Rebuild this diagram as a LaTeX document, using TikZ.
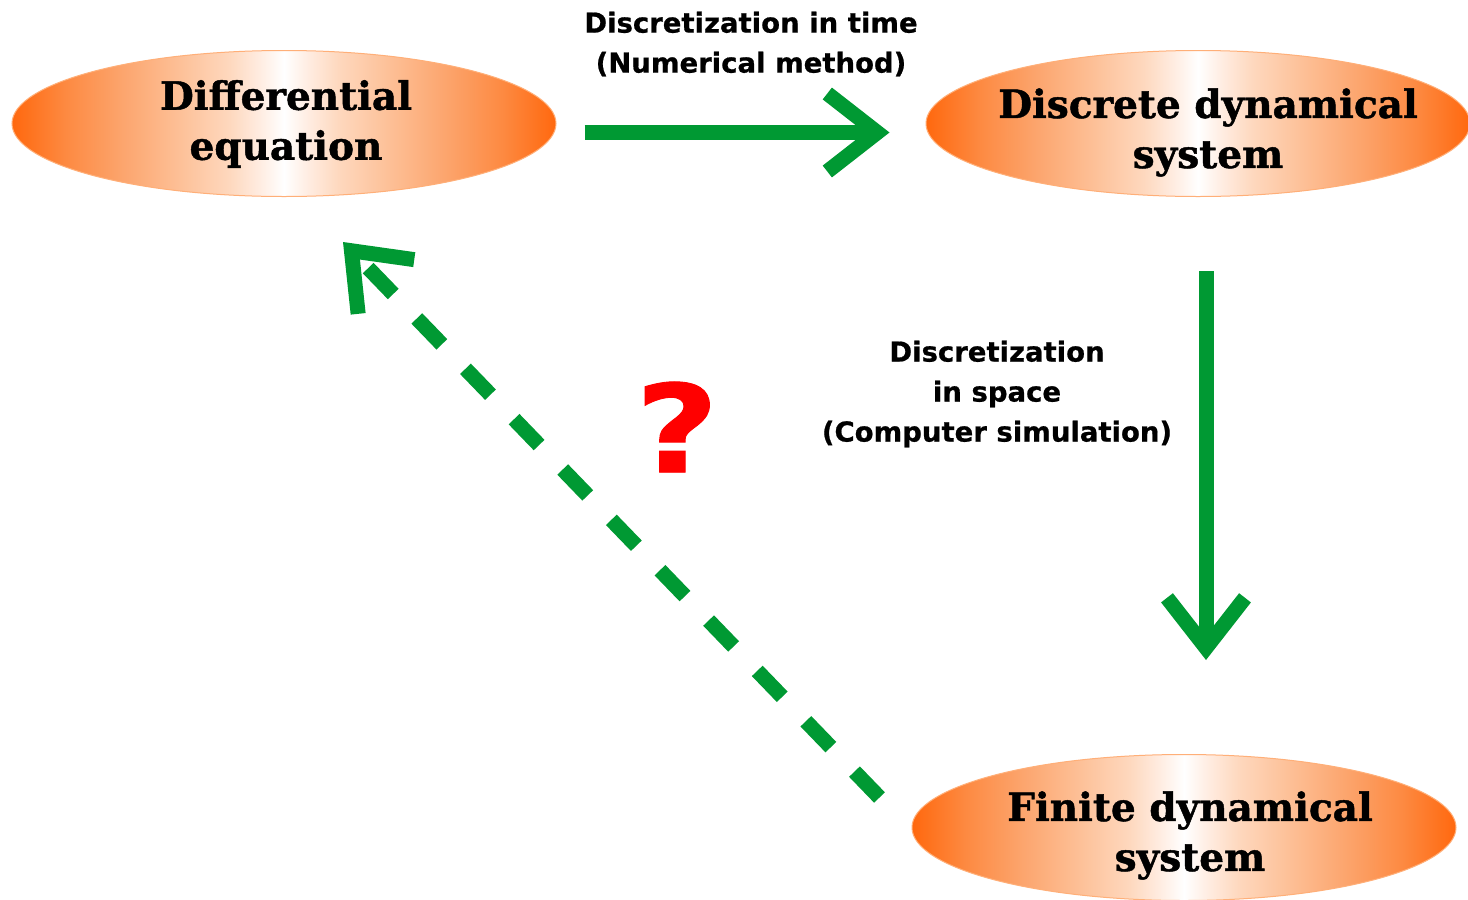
\documentclass[tikz,border=0pt]{standalone}
\usepackage{fontspec}
\setmainfont{DejaVu Serif}
\newfontfamily\statefont[BoldFeatures={FakeBold=1.2}]{DejaVu Serif}
\newfontfamily\labelfont[BoldFeatures={FakeBold=0.7}]{DejaVu Sans}
\usetikzlibrary{shapes.geometric,arrows.meta,calc}
\definecolor{arrowgreen}{RGB}{0,153,51}
\definecolor{deeporange}{RGB}{255,104,14}
\definecolor{orangeA}{RGB}{253,138,66}
\definecolor{orangeB}{RGB}{252,164,108}
\definecolor{orangeC}{RGB}{253,190,148}
\definecolor{orangeD}{RGB}{254,216,190}
\definecolor{orangeE}{RGB}{255,238,228}
\definecolor{rimorange}{RGB}{255,175,120}
\definecolor{qred}{RGB}{255,0,0}

% orange at both rims, fading to white in the middle
\pgfdeclarehorizontalshading{glow}{100bp}{
  color(0bp)=(deeporange); color(25bp)=(deeporange);
  color(30bp)=(orangeA); color(35bp)=(orangeB); color(40bp)=(orangeC);
  color(45bp)=(orangeD); color(48bp)=(orangeE); color(50bp)=(white);
  color(52bp)=(orangeE); color(55bp)=(orangeD); color(60bp)=(orangeC);
  color(65bp)=(orangeB); color(70bp)=(orangeA); color(75bp)=(deeporange);
  color(100bp)=(deeporange)}

\begin{document}
\begin{tikzpicture}[x=1pt,y=-1pt,
  state/.style={ellipse, minimum width=544pt, minimum height=146pt, inner sep=0pt,
    shading=glow, draw=rimorange, line width=1pt},
  statetext/.style={inner sep=0pt, align=center,
    font=\statefont\fontsize{39}{50}\selectfont\bfseries},
  note/.style={inner sep=0pt, align=center,
    font=\labelfont\fontsize{27.5}{40}\selectfont\bfseries},
  flow/.style={draw=arrowgreen, line width=15pt,
    -{Straight Barb[length=50pt,width=78pt]}},
  guess/.style={flow, dash pattern=on 36pt off 34pt},
]
\fill[white] (0,0) rectangle (1468,900);
\useasboundingbox (0,0) rectangle (1468,900);

% the three models
\node[state] (de)  at (284,123.5)  {};
\node[state] (dds) at (1198,123.5) {};
\node[state] (fds) at (1184,827.5) {};
\node[statetext] (de-t)  at ($(de)+(2,0.5)$) {Differential\\equation};
\node[statetext] (dds-t) at ($(dds)+(10,9)$) {Discrete dynamical\\system};
\node[statetext] (fds-t) at ($(fds)+(6,8)$)  {Finite dynamical\\system};

% end points of the connectors
\coordinate (h0) at ($(de.east)+(28,9)$);
\coordinate (h1) at ($(dds.west)+(-36,9)$);
\coordinate (v0) at ($(dds.south)+(8,74)$);
\coordinate (v1) at ($(fds.north)+(22,-94)$);
\coordinate (d0) at ($(fds.west)+(-32,-30)$);
\coordinate (d1) at ($(de.south)+(59,45)$);

\draw[flow]  (h0) -- (h1);
\draw[flow]  (v0) -- (v1);
\draw[guess] (d0) -- (d1);

% labels
\node[note] (lt) at (751,44) {Discretization in time\\(Numerical method)};
\node[note] (ls) at (997,394) {Discretization\\in space\\(Computer simulation)};
\node[inner sep=0pt, text=qred, font=\labelfont\fontsize{122}{122}\selectfont\bfseries]
  (q) at (677,427) {\scalebox{1.18}[1]{?}};
\end{tikzpicture}
\end{document}
